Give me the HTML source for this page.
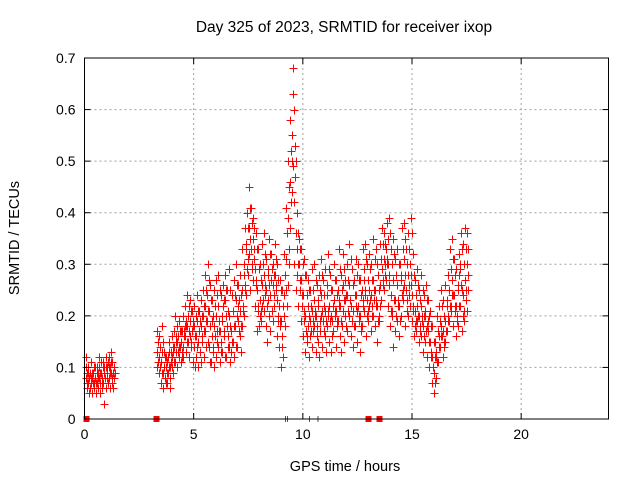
<!DOCTYPE html>
<html><head><meta charset="utf-8"><style>
html,body{margin:0;padding:0;background:#fff}
svg{display:block;font-family:"Liberation Sans",sans-serif}
</style></head><body>
<svg id="chart" width="640" height="480" viewBox="0 0 640 480" xmlns="http://www.w3.org/2000/svg">
<rect x="0" y="0" width="640" height="480" fill="#fff"/>
<text x="344" y="32" font-size="15.5" text-anchor="middle">Day 325 of 2023, SRMTID for receiver ixop</text>
<text transform="translate(19,238) rotate(-90)" font-size="14.5" text-anchor="middle">SRMTID / TECUs</text>
<text x="345" y="471" font-size="14.5" text-anchor="middle">GPS time / hours</text>
<g id="grid"></g>
<g id="marks" shape-rendering="crispEdges"></g>
<g id="axes"></g>
</svg>
<script>
const xTicks = [0,5,10,15,20];
const yTicks = [0,0.1,0.2,0.3,0.4,0.5,0.6,0.7];
const yTickLabels = ["0","0.1","0.2","0.3","0.4","0.5","0.6","0.7"];
const hoursA = [0.05,0.1,0.15,0.2,0.25,0.3,0.35,0.4,0.45,0.5,0.55,0.6,0.65,0.7,0.75,0.8,0.85,0.9,0.95,1.0,1.05,1.1,1.15,1.2,1.25,1.3,1.35];
const tecA1 = [.08,.09,.07,.05,.09,.07,.05,.09,.06,.08,.10,.06,.12,.07,.09,.08,.11,.10,.08,.06,.09,.12,.10,.13,.07,.09,.10];
const tecA2 = [.12,.06,.10,.08,.06,.11,.08,.07,.10,.05,.07,.09,.08,.05,.11,.06,.07,.03,.12,.10,.07,.08,.06,.09,.11,.06,.08];
const tecA3 = [.10,.07,.09,.06,.08,.09,.07,.10,.08,.07,.09,.08,.10,.09,.07,.10,.09,.08,.10,.08,.11,.10,.09,.11,.08,.10,.09];
const hours = [3.3,3.4,3.5,3.6,3.7,3.8,3.9,4.0,4.1,4.2,4.3,4.4,4.5,4.6,4.7,4.8,4.9,5.0,5.1,5.2,5.3,5.4,5.5,5.6,5.7,5.8,5.9,6.0,6.1,6.2,6.3,6.4,6.5,6.6,6.7,6.8,6.9,7.0,7.1,7.2,7.3,7.4,7.5,7.6,7.7,7.8,7.9,8.0,8.1,8.2,8.3,8.4,8.5,8.6,8.7,8.8,8.9,9.0,9.1,9.2,9.3,9.4,9.5,9.6,9.7,9.8,9.9,10.0,10.1,10.2,10.3,10.4,10.5,10.6,10.7,10.8,10.9,11.0,11.1,11.2,11.3,11.4,11.5,11.6,11.7,11.8,11.9,12.0,12.1,12.2,12.3,12.4,12.5,12.6,12.7,12.8,12.9,13.0,13.1,13.2,13.3,13.4,13.5,13.6,13.7,13.8,13.9,14.0,14.1,14.2,14.3,14.4,14.5,14.6,14.7,14.8,14.9,15.0,15.1,15.2,15.3,15.4,15.5,15.6,15.7,15.8,15.9,16.0,16.1,16.2,16.3,16.4,16.5,16.6,16.7,16.8,16.9,17.0,17.1,17.2,17.3,17.4,17.5];
const tec1 = [.13,.09,.07,.06,.08,.07,.10,.12,.14,.13,.16,.11,.14,.16,.18,.12,.15,.14,.12,.10,.13,.15,.17,.19,.14,.11,.13,.12,.14,.11,.13,.16,.12,.14,.13,.15,.18,.14,.16,.18,.20,.24,.28,.25,.27,.22,.17,.18,.19,.21,.18,.23,.17,.21,.22,.16,.14,.10,.12,.18,.26,.37,.44,.30,.25,.22,.19,.16,.13,.15,.12,.14,.18,.13,.15,.17,.14,.16,.18,.15,.13,.17,.14,.19,.16,.18,.15,.17,.20,.16,.14,.18,.15,.13,.18,.21,.16,.19,.17,.20,.18,.15,.19,.23,.25,.27,.22,.18,.20,.17,.19,.16,.20,.23,.18,.20,.22,.19,.16,.17,.15,.16,.13,.15,.12,.10,.07,.05,.08,.11,.14,.12,.15,.17,.19,.21,.18,.16,.18,.22,.17,.19,.21];
const tec2 = [.17,.12,.11,.09,.10,.12,.08,.16,.17,.18,.12,.15,.20,.22,.24,.19,.21,.18,.16,.15,.18,.20,.22,.24,.21,.16,.18,.20,.22,.17,.19,.23,.18,.20,.17,.21,.23,.19,.21,.25,.30,.34,.37,.33,.35,.29,.25,.23,.26,.28,.25,.29,.24,.26,.28,.23,.22,.19,.24,.31,.39,.46,.55,.42,.33,.30,.27,.24,.20,.22,.19,.21,.23,.20,.22,.24,.19,.21,.24,.22,.19,.23,.21,.25,.22,.26,.20,.24,.26,.22,.21,.24,.22,.20,.25,.27,.23,.25,.24,.27,.25,.22,.26,.29,.31,.33,.30,.24,.27,.23,.26,.22,.28,.31,.25,.28,.30,.24,.21,.22,.20,.22,.18,.20,.17,.15,.12,.09,.13,.16,.18,.17,.19,.22,.25,.27,.24,.22,.25,.29,.24,.27,.30];
const tec3 = [.10,.16,.18,.13,.07,.09,.06,.09,.11,.15,.19,.17,.12,.13,.15,.23,.17,.22,.19,.21,.23,.25,.28,.30,.26,.23,.25,.27,.28,.24,.26,.28,.25,.29,.24,.27,.30,.26,.28,.33,.37,.40,.45,.41,.39,.36,.33,.30,.34,.36,.31,.35,.32,.30,.34,.30,.27,.25,.32,.41,.50,.58,.68,.53,.40,.35,.33,.31,.28,.27,.25,.29,.30,.26,.28,.31,.27,.29,.32,.28,.25,.30,.27,.33,.28,.32,.27,.30,.34,.29,.27,.31,.30,.27,.33,.34,.30,.32,.30,.35,.33,.28,.34,.37,.36,.38,.39,.33,.35,.31,.33,.30,.37,.38,.33,.36,.39,.32,.27,.29,.25,.28,.24,.26,.23,.21,.18,.15,.20,.22,.25,.23,.26,.28,.33,.35,.31,.29,.32,.36,.34,.37,.36];
const tec4 = [.15,.14,.13,.10,.12,.15,.13,.14,.20,.10,.14,.13,.17,.18,.20,.16,.11,.10,.24,.17,.11,.12,.14,.15,.11,.19,.10,.15,.17,.13,.22,.12,.14,.11,.15,.12,.14,.22,.13,.22,.26,.29,.32,.30,.31,.26,.21,.20,.22,.24,.15,.20,.27,.19,.25,.19,.18,.14,.20,.25,.33,.52,.63,.47,.28,.27,.24,.21,.17,.18,.16,.17,.20,.16,.12,.20,.22,.13,.20,.19,.16,.20,.18,.22,.13,.21,.23,.21,.23,.19,.18,.22,.19,.17,.22,.24,.20,.22,.20,.23,.22,.19,.22,.26,.28,.30,.26,.21,.14,.20,.22,.19,.24,.26,.21,.24,.26,.21,.18,.19,.17,.19,.20,.17,.19,.13,.10,.12,.11,.14,.16,.15,.17,.20,.22,.24,.21,.19,.28,.26,.20,.23,.25];
const tec5 = [.11,.10,.09,.08,.09,.10,.11,.13,.15,.16,.14,.17,.16,.19,.17,.14,.18,.16,.14,.13,.16,.17,.19,.21,.18,.14,.16,.17,.19,.15,.17,.20,.16,.18,.15,.18,.20,.17,.18,.21,.25,.31,.35,.29,.33,.27,.22,.21,.23,.26,.22,.26,.21,.24,.26,.20,.19,.16,.18,.22,.30,.42,.49,.36,.30,.25,.22,.19,.16,.20,.17,.19,.21,.18,.19,.21,.17,.19,.21,.20,.17,.21,.19,.23,.19,.23,.18,.21,.23,.19,.18,.21,.20,.18,.23,.25,.21,.23,.22,.25,.23,.20,.23,.27,.30,.31,.28,.21,.23,.20,.23,.19,.25,.28,.23,.26,.28,.22,.19,.20,.18,.20,.16,.18,.15,.12,.10,.07,.11,.14,.16,.14,.17,.19,.22,.24,.22,.20,.22,.25,.21,.25,.28];
const tec6 = [.15,.11,.15,.12,.11,.13,.10,.11,.16,.13,.17,.12,.18,.15,.22,.21,.19,.20,.21,.19,.20,.22,.25,.27,.23,.20,.22,.24,.25,.20,.23,.25,.21,.25,.21,.24,.26,.23,.24,.28,.33,.37,.41,.38,.37,.33,.29,.27,.30,.32,.28,.32,.29,.28,.31,.27,.25,.22,.28,.36,.45,.50,.60,.50,.36,.33,.30,.28,.24,.25,.22,.25,.27,.23,.25,.28,.24,.26,.29,.25,.22,.27,.24,.29,.25,.29,.24,.27,.31,.26,.24,.28,.27,.24,.29,.31,.27,.29,.27,.31,.30,.25,.31,.34,.34,.35,.36,.30,.32,.28,.30,.27,.33,.35,.30,.33,.36,.28,.24,.26,.23,.25,.21,.23,.20,.18,.15,.12,.17,.19,.22,.20,.23,.25,.29,.31,.28,.26,.30,.33,.30,.33,.33];
const axisHours = [0.1,3.3,13.0,13.5];
const blankHours = [9.2,9.3,10.3,10.7];

const NS = "http://www.w3.org/2000/svg";
const L = 84.5, R = 608.5, T = 58, B = 419;
const xMax = 24, yMax = 0.7;
const xs = h => L + h / xMax * (R - L);
const ys = v => B - v / yMax * (B - T);
function mk(tag, attrs, parent) {
  const e = document.createElementNS(NS, tag);
  for (const k in attrs) e.setAttribute(k, attrs[k]);
  parent.appendChild(e);
  return e;
}
const grid = document.getElementById('grid');
const axes = document.getElementById('axes');
const marks = document.getElementById('marks');
xTicks.forEach(t => {
  const x = xs(t);
  if (t > 0) {
    const g = mk('line', {x1:x, x2:x, y1:T, y2:B, stroke:'#a0a0a0', 'stroke-dasharray':'2,3', 'stroke-width':1}, grid);
    
    
  }
  mk('line', {x1:x, x2:x, y1:B, y2:B-6, stroke:'#000'}, axes);
  mk('line', {x1:x, x2:x, y1:T, y2:T+6, stroke:'#000'}, axes);
  const tx = mk('text', {x:x, y:B+20, 'font-size':14, 'text-anchor':'middle'}, axes);
  tx.textContent = String(t);
  
  
});
yTicks.forEach((t, i) => {
  const y = ys(t);
  if (t > 0 && t < yMax) {
    const g = mk('line', {x1:L, x2:R, y1:y, y2:y, stroke:'#a0a0a0', 'stroke-dasharray':'2,3', 'stroke-width':1}, grid);
    
    
  }
  mk('line', {x1:L, x2:L+6, y1:y, y2:y, stroke:'#000'}, axes);
  mk('line', {x1:R, x2:R-6, y1:y, y2:y, stroke:'#000'}, axes);
  const tx = mk('text', {x:L-9, y:y+5, 'font-size':14, 'text-anchor':'end'}, axes);
  tx.textContent = yTickLabels[i];
  
  
});
const frame = mk('rect', {x:L, y:T, width:R-L, height:B-T, fill:'none', stroke:'#000', 'stroke-width':1}, axes);



function plus(h, v) {
  const x = Math.round(xs(h)) + 0.5, y = Math.round(ys(v)) + 0.5;
  const p = mk('path', {d:`M${x-4},${y}H${x+4}M${x},${y-4}V${y+4}`, stroke:'#ff0000', 'stroke-width':1.2, fill:'none'}, marks);
  
  
}
[tecA1, tecA2, tecA3].forEach((s, k) => {
  hoursA.forEach((h, i) => plus(h + k * 0.015, s[i]));
});
[tec1, tec2, tec3, tec4, tec5, tec6].forEach((s, k) => {
  hours.forEach((h, i) => plus(h + k * 0.017, s[i]));
});
axisHours.forEach(h => {
  const r = mk('rect', {x:xs(h)-3, y:B-3, width:6, height:6, fill:'#ff0000'}, marks);
  
  
});
blankHours.forEach(h => {
  const l = mk('line', {x1:xs(h), x2:xs(h), y1:B-3, y2:B+3, stroke:'#555'}, marks);
  
  
});
</script>
</body></html>
